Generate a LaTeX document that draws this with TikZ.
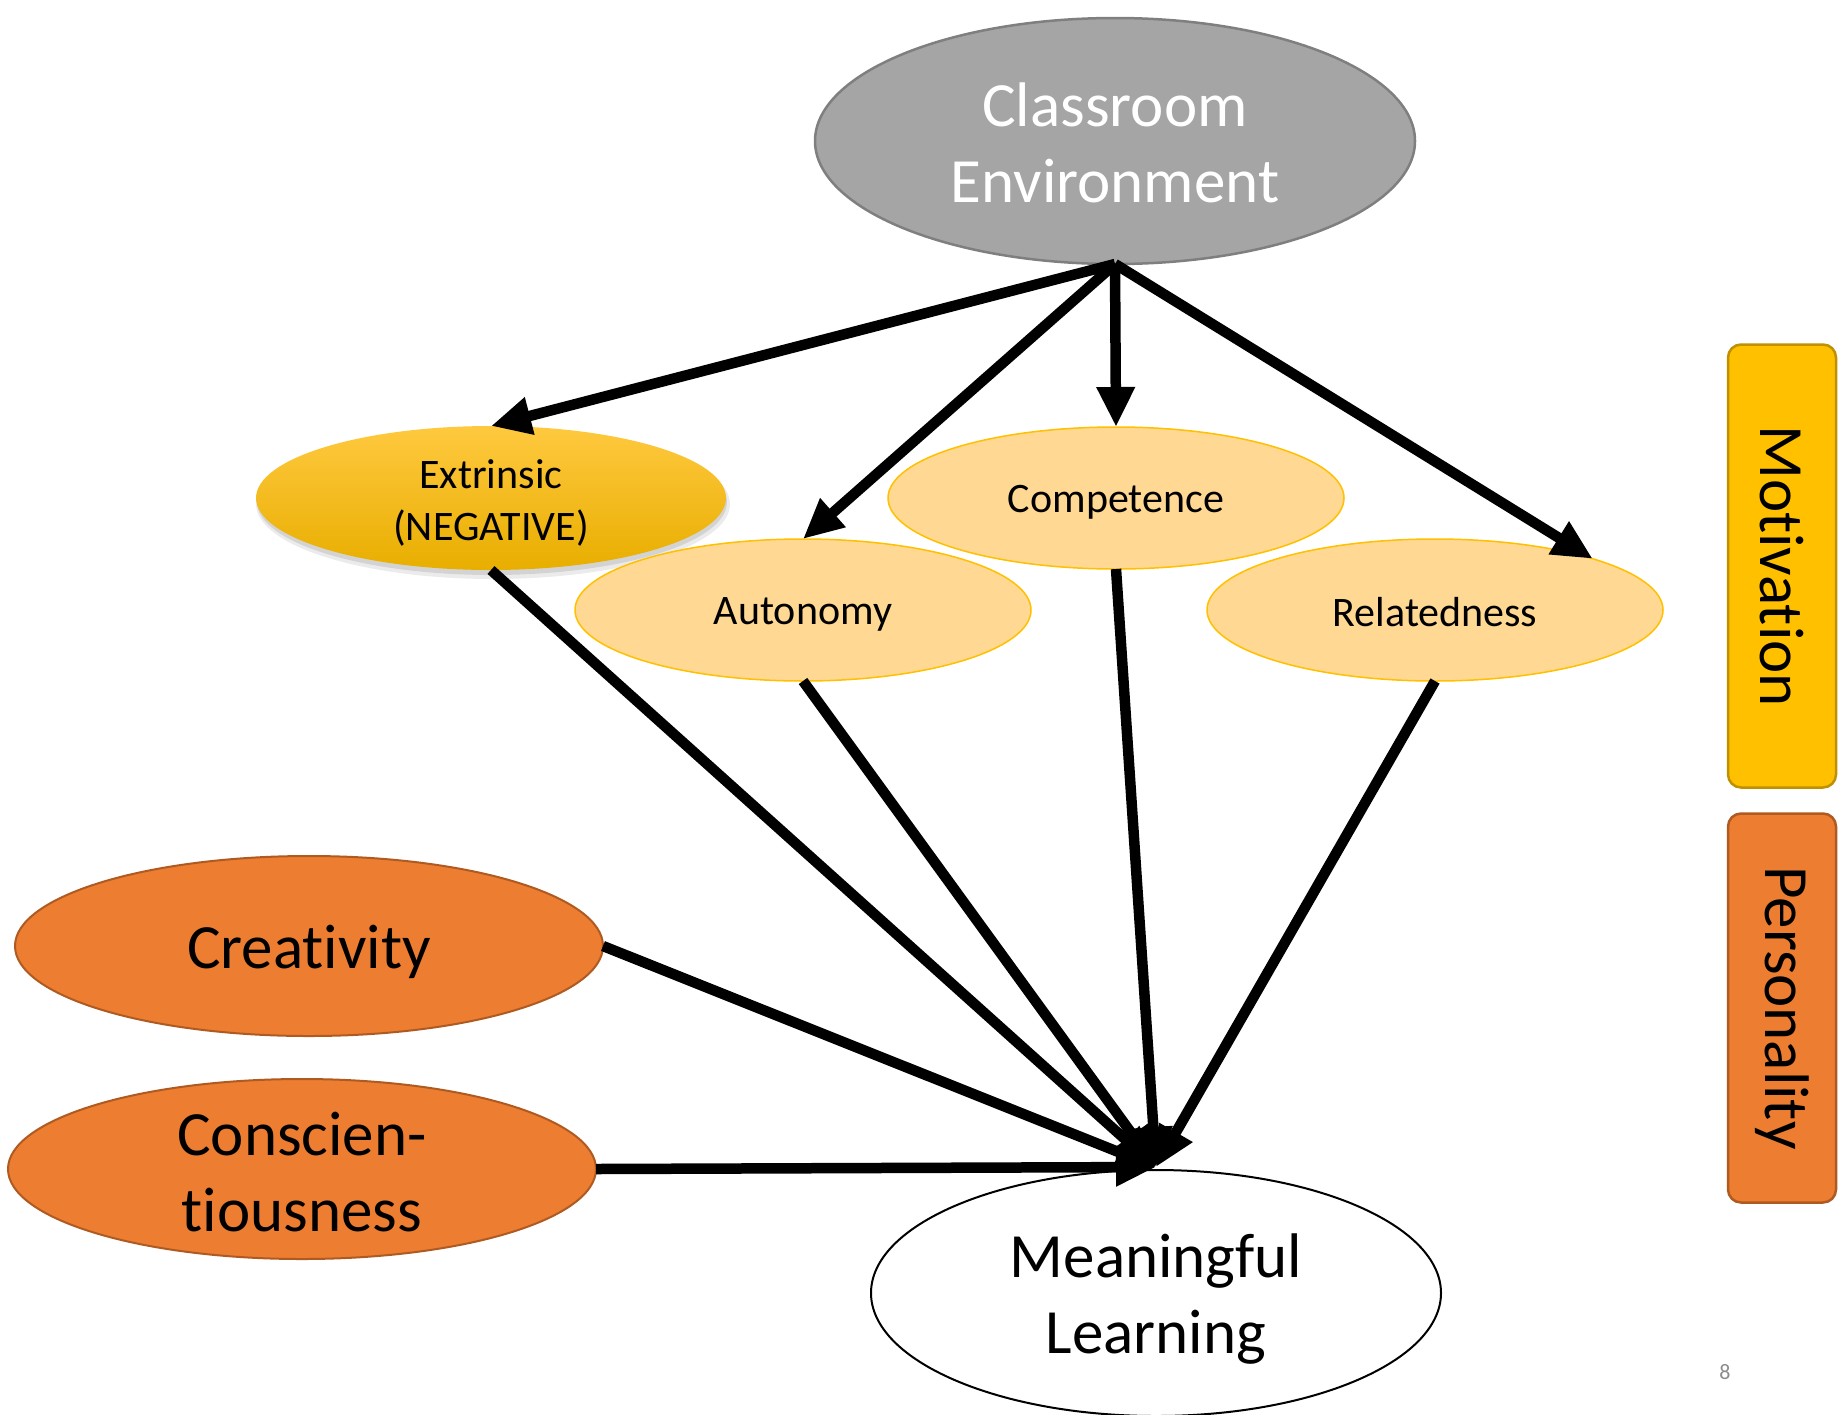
\documentclass[tikz,border=0pt]{standalone}
\usepackage{fontspec}
\setmainfont{Carlito}[Ligatures={NoCommon,NoRare,NoContextual}]
\usetikzlibrary{shapes.geometric,arrows.meta,shadows}
\newcommand{\nolig}{\kern0pt }
\definecolor{cegray}{HTML}{A5A5A5}
\definecolor{ceborder}{HTML}{7F7F7F}
\definecolor{gold}{HTML}{FFC000}
\definecolor{goldtop}{HTML}{FFC93F}
\definecolor{goldbot}{HTML}{E8AE00}
\definecolor{lightgold}{HTML}{FFD993}
\definecolor{goldborder}{HTML}{BF9000}
\definecolor{orng}{HTML}{ED7D31}
\definecolor{orngborder}{HTML}{AE5A21}
\tikzset{
  ell/.style={ellipse, inner sep=0pt, outer sep=0pt},
  big/.style={font=\fontsize{63}{76}\selectfont, align=center},
  small/.style={font=\fontsize{42}{52}\selectfont, align=center},
  lightell/.style={ell, fill=lightgold, draw=gold, line width=1.5pt, minimum width=456pt, minimum height=142pt},
  orell/.style={ell, fill=orng, draw=orngborder, line width=2pt, minimum width=588pt, minimum height=180pt},
  sidebox/.style={rounded corners=13pt, line width=2.5pt, minimum width=108pt, inner sep=0pt},
  conn/.style={line width=10.5pt, -{Triangle[length=40pt,width=36pt]}},
}
\begin{document}
\begin{tikzpicture}[x=1pt,y=-1pt]
\useasboundingbox (0,0) rectangle (1841,1414);
% ellipses
\node[ell, fill=cegray, draw=ceborder, line width=2.5pt, minimum width=600pt, minimum height=246pt] (ce) at (1115,141) {};
\node[big, text=white] (cetxt) at (1115,143) {Classroom\\Environment};
\node[ell, fill=black, opacity=0.08, minimum width=474pt, minimum height=150pt] (extsh2) at (493,504) {};
\node[ell, fill=black, opacity=0.10, minimum width=470pt, minimum height=146pt] (extsh1) at (492,502) {};
\node[ell, top color=goldtop, middle color=gold, bottom color=goldbot, minimum width=470pt, minimum height=144pt] (ext) at (491,498) {};
\node[small] (exttxt) at (491,503) {Extrinsic\\(NEGATIVE)};
\node[lightell] (comp) at (1116,498) {};
\node[small] (comptxt) at (1116,502) {Competence};
\node[lightell] (aut) at (803,610) {};
\node[small] (auttxt) at (803,614) {Autonomy};
\node[lightell] (rel) at (1435,610) {};
\node[small] (reltxt) at (1435,612) {Relatedness};
\node[orell] (cre) at (309,946) {};
\node[big] (cretxt) at (309,952) {Creat\nolig ivity};
\node[orell] (con) at (302,1169) {};
\node[big] (context) at (302,1172) {Conscien-\\t\nolig iousness};
\node[ell, fill=white, draw=black, line width=2pt, minimum width=570pt, minimum height=246pt] (ml) at (1156,1293) {};
\node[big] (mltxt) at (1156,1299) {Meaningful\\Learning};
% side boxes
\node[sidebox, fill=gold, draw=goldborder, minimum height=443pt] (mot) at (1782,566) {};
\node[big, rotate=-90] (mottxt) at (1782,566) {Mot\nolig ivat\nolig ion};
\node[sidebox, fill=orng, draw=orngborder, minimum height=389pt] (pers) at (1782,1008) {};
\node[big, rotate=-90] (perstxt) at (1782,1008) {Personality};
% page number
\node[font=\fontsize{22}{26}\selectfont, text=black!45] (pg) at (1725,1372) {8};
% connectors
\coordinate (mlin) at (1156,1167);
\draw[conn] (ce.south) -- (ext.north);
\draw[conn] (ce.south) -- (aut.north);
\draw[conn] (ce.south) -- (comp.north);
\draw[conn] (ce.south) -- (rel.18);
\draw[conn] (ext.south) -- (mlin);
\draw[conn] (aut.south) -- (mlin);
\draw[conn] (comp.south) -- (mlin);
\draw[conn] (rel.south) -- (mlin);
\draw[conn] (cre.east) -- (mlin);
\draw[conn] (con.east) -- (mlin);
\end{tikzpicture}
\end{document}
